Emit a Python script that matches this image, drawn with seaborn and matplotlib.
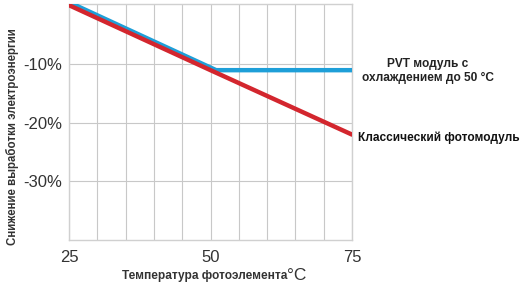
import matplotlib
matplotlib.use("Agg")
import matplotlib.pyplot as plt
import seaborn as sns
import pandas as pd
from matplotlib.ticker import MultipleLocator, FixedLocator

# Data
temps_pvt = [25, 51, 75]
pvt_values = [0.6, -11.0, -11.0]
temps_classic = [25, 50, 75]
classic_values = [0.1, -11.0, -22.0]
x_ticks = [25, 50, 75]
y_ticks = [-10, -20, -30]
y_tick_labels = ["-10%", "-20%", "-30%"]
series_names = ["PVT", "Classic"]

sns.set_theme(style="white")
plt.rcParams['font.family'] = ['Liberation Sans', 'DejaVu Sans']

df = pd.concat([
    pd.DataFrame({"t": temps_pvt, "v": pvt_values, "s": series_names[0]}),
    pd.DataFrame({"t": temps_classic, "v": classic_values, "s": series_names[1]}),
])

fig = plt.figure(figsize=(5.25, 2.82), dpi=100)
ax = fig.add_axes([69/525, 42/282, 283/525, 236/282])

palette = {"PVT": "#1e9fd8", "Classic": "#d3262e"}
sns.lineplot(data=df, x="t", y="v", hue="s", palette=palette, linewidth=3.2,
             ax=ax, legend=False, sort=False, zorder=3)

ax.set_xlim(25, 75)
ax.set_ylim(-40, 0.3)
ax.xaxis.set_major_locator(FixedLocator(x_ticks))
ax.xaxis.set_minor_locator(MultipleLocator(5))
ax.yaxis.set_major_locator(FixedLocator(y_ticks))
ax.set_yticklabels(y_tick_labels)
ax.grid(True, which="both", axis="x", color="#c8c8c8", linewidth=0.8)
ax.grid(True, which="major", axis="y", color="#c8c8c8", linewidth=0.8)
for sp in ax.spines.values():
    sp.set_color("#d0d0d0")
    sp.set_linewidth(1.0)
ax.tick_params(axis="both", which="both", length=0, labelsize=12, labelcolor="#333333")
ax.tick_params(axis="x", pad=7)
ax.tick_params(axis="y", pad=5)

ax.set_xlabel("Температура фотоэлемента", fontsize=8.6, fontweight="bold", color="#333333")
ax.xaxis.set_label_coords((205-69)/283, -0.125)
ax.annotate("°C", xy=(1, 0), xycoords=ax.xaxis.label, xytext=(-0.5, -0.8), textcoords="offset points",
            ha="left", va="bottom", fontsize=12.5, color="#333333")
ax.set_ylabel("Снижение выработки электроэнергии", fontsize=8.3, fontweight="bold", color="#333333")
ax.yaxis.set_label_coords(-0.175, 0.44)

ax.text(1.268, -11.2, "PVT модуль с\nохлаждением до 50 °C", fontsize=8.6, fontweight="bold",
        color="#222222", ha="center", va="center", transform=ax.get_yaxis_transform(),
        linespacing=1.2)
ax.text(1.02, -22.5, "Классический фотомодуль", fontsize=8.6, fontweight="bold",
        color="#111111", ha="left", va="center", transform=ax.get_yaxis_transform())

fig.savefig("out.png", dpi=100)
